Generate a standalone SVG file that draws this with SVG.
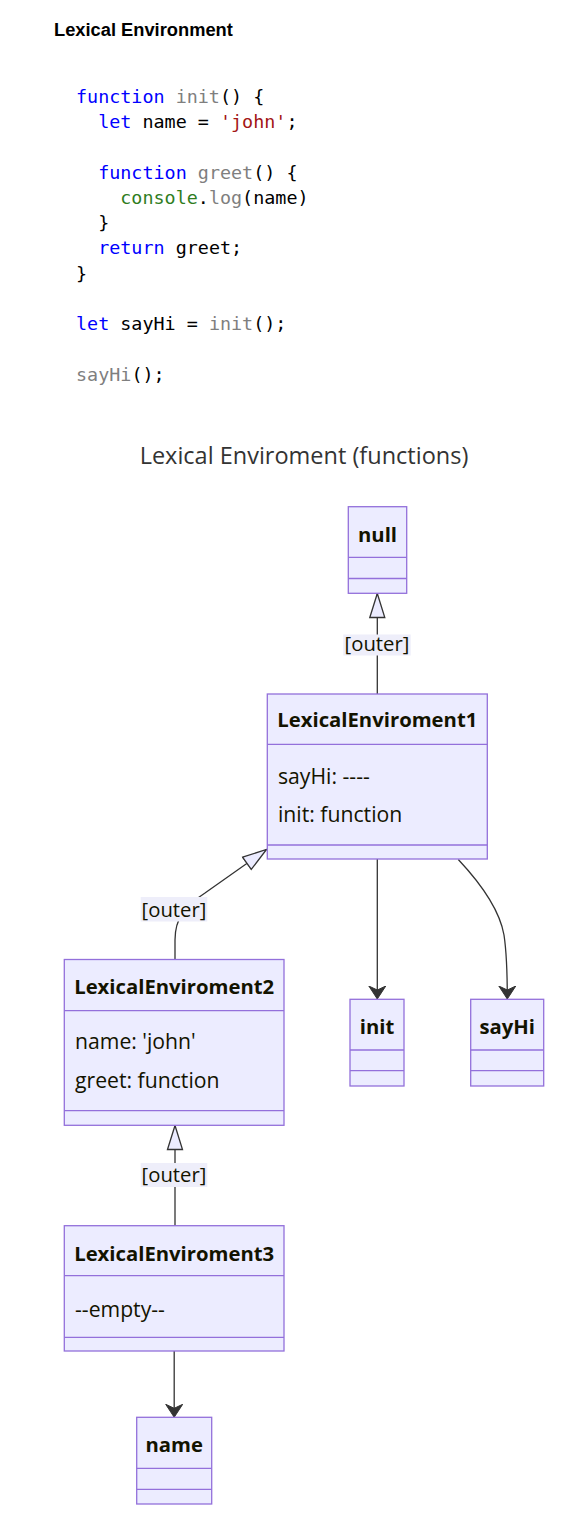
<svg xmlns="http://www.w3.org/2000/svg" width="570" height="1532" viewBox="0 0 570 1532">
<style>
.bg{fill:#ffffff}
.h1{font-family:"Liberation Sans",Arial,sans-serif;font-weight:bold;font-size:18.3px;fill:#000}
.code{font-family:"DejaVu Sans Mono",monospace;font-size:18.4px;fill:#000;white-space:pre}
.kw{fill:#0000ff}.fn{fill:#7f7f7f}.str{fill:#a31515}.grn{fill:#2f7d1e}
.dtitle{font-family:"Open Sans",sans-serif;font-size:23.5px;fill:#333;text-anchor:middle}
.box{fill:#ECECFF;stroke:#9370DB;stroke-width:1.3}
.div{stroke:#9370DB;stroke-width:1.3}
.nt{font-family:"Open Sans",sans-serif;font-weight:bold;font-size:20.3px;fill:#131300;text-anchor:middle}
.mb{font-family:"Open Sans",sans-serif;font-size:21.2px;fill:#131300}
.edge{fill:none;stroke:#333;stroke-width:1.3}
.lblbg{fill:#EEEEFA}
.lbl{font-family:"Open Sans",sans-serif;font-size:20.3px;fill:#131300;text-anchor:middle}
</style>
<defs>
<marker id="ext" markerUnits="userSpaceOnUse" markerWidth="28" markerHeight="20" refX="25" refY="9" orient="auto">
<path d="M1,1.5 L25,9 L1,16.5 Z" fill="#ECECFF" stroke="#333" stroke-width="1.3"/>
</marker>
<marker id="dep" markerUnits="userSpaceOnUse" markerWidth="16" markerHeight="20" refX="13" refY="9" orient="auto">
<path d="M0,0.5 L13,9 L0,17.5 L4,9 Z" fill="#333" stroke="#333" stroke-width="1"/>
</marker>
</defs>
<rect class="bg" x="0" y="0" width="570" height="1532"/>
<text class="h1" x="54" y="35.5">Lexical Environment</text>
<g id="code">
<text class="code" x="76" y="102.5"><tspan class="kw">function</tspan> <tspan class="fn">init</tspan>() {</text>
<text class="code" x="76" y="127.8">  <tspan class="kw">let</tspan> name = <tspan class="str">'john'</tspan>;</text>
<text class="code" x="76" y="178.5">  <tspan class="kw">function</tspan> <tspan class="fn">greet</tspan>() {</text>
<text class="code" x="76" y="203.8">    <tspan class="grn">console</tspan>.<tspan class="fn">log</tspan>(name)</text>
<text class="code" x="76" y="229">  }</text>
<text class="code" x="76" y="254.4">  <tspan class="kw">return</tspan> greet;</text>
<text class="code" x="76" y="279.7">}</text>
<text class="code" x="76" y="330.3"><tspan class="kw">let</tspan> sayHi = <tspan class="fn">init</tspan>();</text>
<text class="code" x="76" y="381"><tspan class="fn">sayHi</tspan>();</text>
</g>
<text class="dtitle" x="304" y="463.5">Lexical Enviroment (functions)</text>
<g id="connectors">
<path class="edge" d="M377.3,694 L377.3,593.5" marker-end="url(#ext)"/>
<path class="edge" d="M175,959.5 L175,940 C175,918 185,906 205,893 L266.5,849.5" marker-end="url(#ext)"/>
<path class="edge" d="M175,1225.7 L175,1125.5" marker-end="url(#ext)"/>
<path class="edge" d="M377.3,859 L377.3,999" marker-end="url(#dep)"/>
<path class="edge" d="M458.3,859.5 C485,888 500,912 504,935 C507,955 507.3,975 507.3,999" marker-end="url(#dep)"/>
<path class="edge" d="M174.2,1351 L174.2,1417.3" marker-end="url(#dep)"/>
<rect class="lblbg" x="343.3" y="634.5" width="67.4" height="21"/>
<text class="lbl" x="377" y="651">[outer]</text>
<rect class="lblbg" x="140.7" y="897" width="66.6" height="24.5"/>
<text class="lbl" x="174" y="916.5">[outer]</text>
<rect class="lblbg" x="140.7" y="1163" width="66.6" height="24"/>
<text class="lbl" x="174" y="1182">[outer]</text>
</g>
<g id="null">
<rect class="box" x="348.3" y="506.7" width="58.4" height="86.6"/>
<line class="div" x1="348.3" y1="557.3" x2="406.7" y2="557.3"/>
<line class="div" x1="348.3" y1="578.5" x2="406.7" y2="578.5"/>
<text class="nt" x="377.5" y="542">null</text>
</g>
<g id="LexicalEnviroment1">
<rect class="box" x="267.3" y="694" width="220" height="165"/>
<line class="div" x1="267.3" y1="744.3" x2="487.3" y2="744.3"/>
<line class="div" x1="267.3" y1="845" x2="487.3" y2="845"/>
<text class="nt" x="377.3" y="727">LexicalEnviroment1</text>
<text class="mb" x="278" y="784">sayHi: ----</text>
<text class="mb" x="278" y="822">init: function</text>
</g>
<g id="LexicalEnviroment2">
<rect class="box" x="64.3" y="959.5" width="219.7" height="165.8"/>
<line class="div" x1="64.3" y1="1010.7" x2="284" y2="1010.7"/>
<line class="div" x1="64.3" y1="1110.7" x2="284" y2="1110.7"/>
<text class="nt" x="174.2" y="994">LexicalEnviroment2</text>
<text class="mb" x="75" y="1049">name: 'john'</text>
<text class="mb" x="75" y="1088">greet: function</text>
</g>
<g id="init">
<rect class="box" x="350" y="999.3" width="54" height="86.7"/>
<line class="div" x1="350" y1="1050" x2="404" y2="1050"/>
<line class="div" x1="350" y1="1070.7" x2="404" y2="1070.7"/>
<text class="nt" x="377" y="1034">init</text>
</g>
<g id="sayHi">
<rect class="box" x="470.7" y="999.3" width="73" height="86.7"/>
<line class="div" x1="470.7" y1="1050" x2="543.7" y2="1050"/>
<line class="div" x1="470.7" y1="1070.7" x2="543.7" y2="1070.7"/>
<text class="nt" x="507.2" y="1034">sayHi</text>
</g>
<g id="LexicalEnviroment3">
<rect class="box" x="64.3" y="1225.7" width="219.7" height="125.3"/>
<line class="div" x1="64.3" y1="1275.7" x2="284" y2="1275.7"/>
<line class="div" x1="64.3" y1="1337.3" x2="284" y2="1337.3"/>
<text class="nt" x="174.2" y="1260.5">LexicalEnviroment3</text>
<text class="mb" x="75" y="1317">--empty--</text>
</g>
<g id="name">
<rect class="box" x="136.7" y="1417.3" width="75" height="86.7"/>
<line class="div" x1="136.7" y1="1468.3" x2="211.7" y2="1468.3"/>
<line class="div" x1="136.7" y1="1489.3" x2="211.7" y2="1489.3"/>
<text class="nt" x="174.2" y="1452">name</text>
</g>
</svg>
